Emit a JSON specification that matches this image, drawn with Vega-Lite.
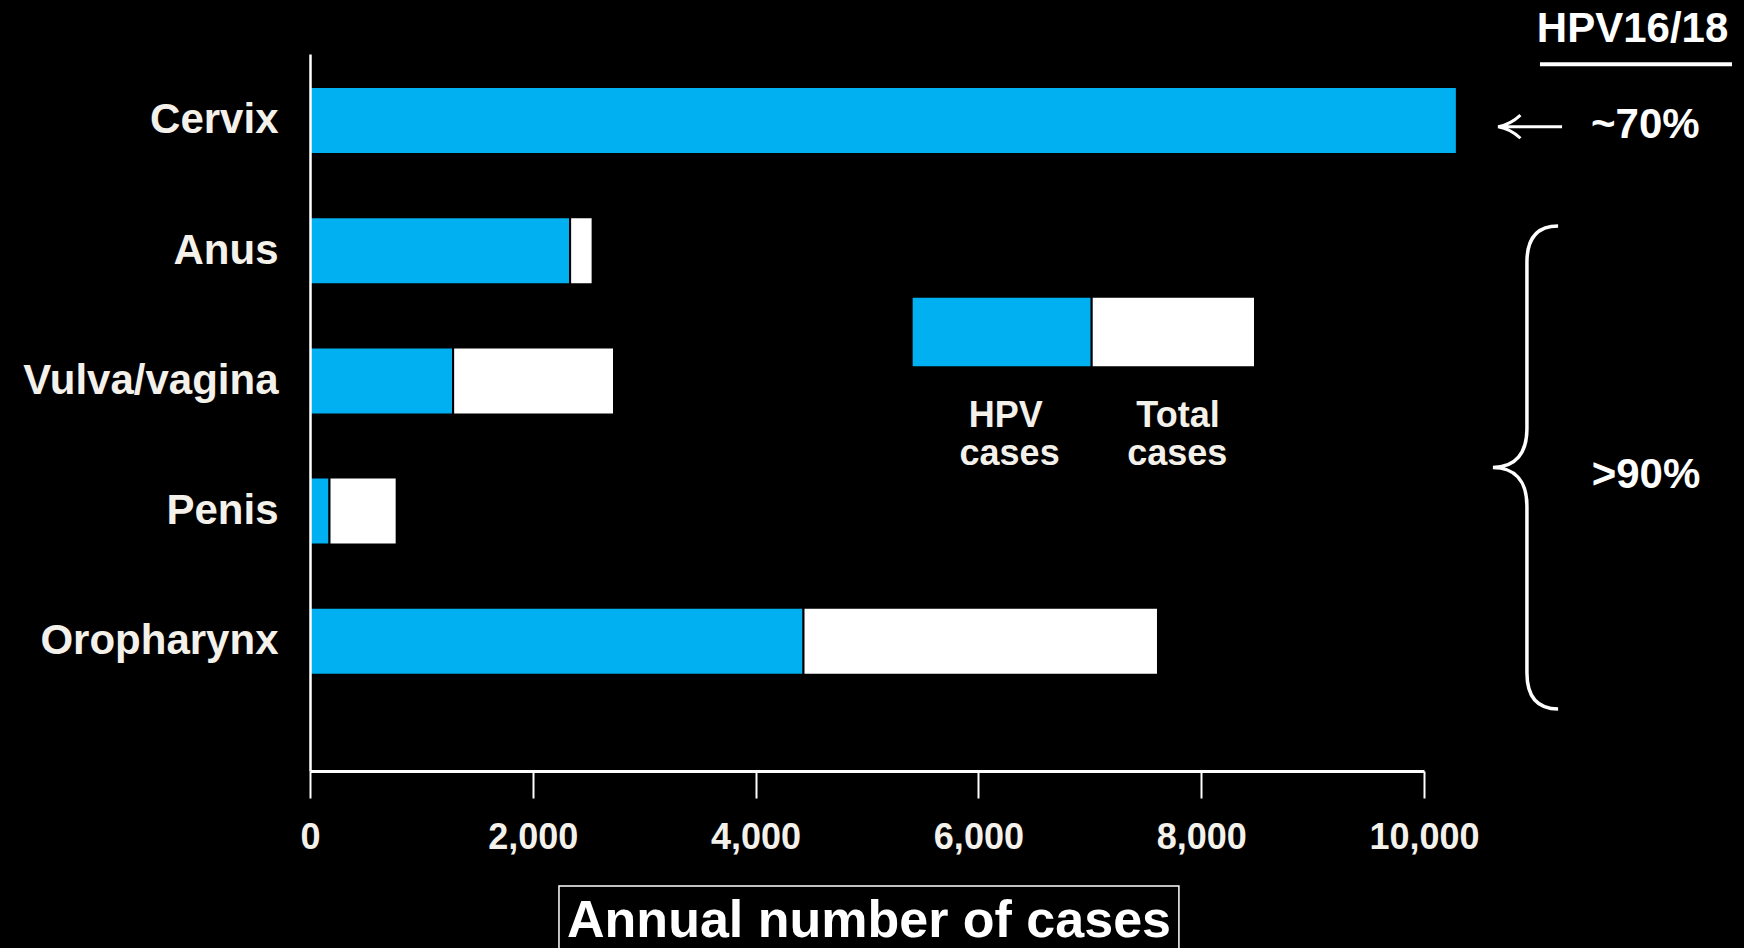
{
  "$schema": "https://vega.github.io/schema/vega-lite/v6.json",
  "width": 1114,
  "height": 717,
  "autosize": {"type": "none"},
  "padding": {"left": 310, "top": 54, "right": 320, "bottom": 177},
  "background": "#000000",
  "config": {"view": {"stroke": null}, "font": "Liberation Sans"},
  "datasets": {
    "bars": [
      {"site": "Cervix", "segment": "HPV cases", "start": 0, "end": 10295},
      {"site": "Anus", "segment": "HPV cases", "start": 0, "end": 2335},
      {"site": "Anus", "segment": "Total cases", "start": 2335, "end": 2537},
      {"site": "Vulva/vagina", "segment": "HPV cases", "start": 0, "end": 1285},
      {"site": "Vulva/vagina", "segment": "Total cases", "start": 1285, "end": 2729},
      {"site": "Penis", "segment": "HPV cases", "start": 0, "end": 175},
      {"site": "Penis", "segment": "Total cases", "start": 175, "end": 778},
      {"site": "Oropharynx", "segment": "HPV cases", "start": 0, "end": 4430},
      {"site": "Oropharynx", "segment": "Total cases", "start": 4430, "end": 7612}
    ],
    "legendRects": [
      {"segment": "HPV cases", "start": 5401, "end": 7017, "r": 2.3533, "r2": 2.8955},
      {"segment": "Total cases", "start": 7017, "end": 8483, "r": 2.3533, "r2": 2.8955}
    ],
    "legendText": [
      {"label": "HPV", "start": 6245, "r": 3.3541},
      {"label": "cases", "start": 6280, "r": 3.6459},
      {"label": "Total", "start": 7792, "r": 3.3541},
      {"label": "cases", "start": 7785, "r": 3.6459}
    ],
    "notes": [
      {"label": "HPV16/18", "start": 11872, "r": 0.3948},
      {"label": "~70%", "start": 11987, "r": 1.1367},
      {"label": ">90%", "start": 11993, "r": 3.8226}
    ],
    "underline": [{"start": 11041, "end": 12765, "r": 0.5684}],
    "arrow": [{"start": 10952, "r": 1.0476}],
    "brace": [{"start": 10911, "r": 3.6651}],
    "title": [{"label": "Annual number of cases", "start": 5018, "r": 7.2688}],
    "titleBox": [{"start": 2235, "end": 7800, "r": 6.8794, "r2": 7.7}]
  },
  "layer": [
    {
      "data": {"name": "bars"},
      "mark": {"type": "bar", "stroke": "#000000", "strokeWidth": 2},
      "encoding": {
        "y": {
          "field": "site",
          "type": "nominal",
          "sort": ["Cervix", "Anus", "Vulva/vagina", "Penis", "Oropharynx"],
          "scale": {"paddingInner": 0.4854, "paddingOuter": 0.496, "align": 0.2554},
          "axis": {
            "title": null,
            "ticks": false,
            "domainColor": "#ffffff",
            "domainWidth": 2.5,
            "labelFont": "Liberation Sans",
            "labelFontSize": 42,
            "labelFontWeight": "bold",
            "labelColor": "#f4f1eb",
            "labelPadding": 32,
            "labelLimit": 400,
            "zindex": 1
          }
        },
        "x": {
          "field": "start",
          "type": "quantitative",
          "scale": {"domain": [0, 10000], "nice": false},
          "axis": {
            "title": null,
            "values": [0, 2000, 4000, 6000, 8000, 10000],
            "format": ",d",
            "grid": false,
            "domainColor": "#ffffff",
            "domainWidth": 3,
            "tickColor": "#ffffff",
            "tickWidth": 2,
            "tickSize": 27,
            "labelFont": "Liberation Sans",
            "labelFontSize": 36,
            "labelFontWeight": "bold",
            "labelColor": "#f4f1eb",
            "labelPadding": 22,
            "labelFlush": false,
            "labelOverlap": false,
            "zindex": 1
          }
        },
        "x2": {"field": "end"},
        "color": {
          "field": "segment",
          "type": "nominal",
          "scale": {"domain": ["HPV cases", "Total cases"], "range": ["#00b0f0", "#ffffff"]},
          "legend": null
        }
      }
    },
    {
      "layer": [
        {
          "data": {"name": "legendRects"},
          "mark": {"type": "rect", "stroke": "#000000", "strokeWidth": 2},
          "encoding": {
            "x": {"field": "start", "type": "quantitative"},
            "x2": {"field": "end"},
            "y": {"field": "r", "type": "quantitative", "scale": {"domain": [0.4892, 5.9962], "reverse": true, "nice": false, "zero": false}, "axis": null},
            "y2": {"field": "r2"},
            "color": {
              "field": "segment",
              "type": "nominal",
              "legend": null
            }
          }
        },
        {
          "data": {"name": "legendText"},
          "mark": {"type": "text", "fontSize": 36, "fontWeight": "bold", "color": "#f4f1eb", "align": "center", "baseline": "alphabetic", "font": "Liberation Sans"},
          "encoding": {
            "x": {"field": "start", "type": "quantitative"},
            "y": {"field": "r", "type": "quantitative", "scale": {"domain": [0.4892, 5.9962], "reverse": true, "nice": false, "zero": false}, "axis": null},
            "text": {"field": "label"}
          }
        },
        {
          "data": {"name": "notes"},
          "mark": {"type": "text", "fontSize": 42, "fontWeight": "bold", "color": "#ffffff", "align": "center", "baseline": "alphabetic", "font": "Liberation Sans"},
          "encoding": {
            "x": {"field": "start", "type": "quantitative"},
            "y": {"field": "r", "type": "quantitative", "scale": {"domain": [0.4892, 5.9962], "reverse": true, "nice": false, "zero": false}, "axis": null},
            "text": {"field": "label"}
          }
        },
        {
          "data": {"name": "underline"},
          "mark": {"type": "rule", "color": "#ffffff", "strokeWidth": 4},
          "encoding": {
            "x": {"field": "start", "type": "quantitative"},
            "x2": {"field": "end"},
            "y": {"field": "r", "type": "quantitative", "scale": {"domain": [0.4892, 5.9962], "reverse": true, "nice": false, "zero": false}, "axis": null}
          }
        },
        {
          "data": {"name": "arrow"},
          "mark": {"type": "point", "filled": false, "opacity": 1, "color": "#ffffff", "strokeWidth": 3, "size": 4096, "shape": "M 1 0 L -1 0 M -0.3 -0.36 Q -0.62 -0.06 -1 0 Q -0.62 0.06 -0.3 0.36"},
          "encoding": {
            "x": {"field": "start", "type": "quantitative"},
            "y": {"field": "r", "type": "quantitative", "scale": {"domain": [0.4892, 5.9962], "reverse": true, "nice": false, "zero": false}, "axis": null}
          }
        },
        {
          "data": {"name": "brace"},
          "mark": {"type": "point", "filled": false, "opacity": 1, "color": "#ffffff", "strokeWidth": 3.5, "size": 233289, "shape": "M 0.135 -1 C 0.05 -1 0.006 -0.95 0.006 -0.85 L 0.006 -0.16 C 0.006 -0.06 -0.04 0 -0.135 0 C -0.04 0 0.006 0.06 0.006 0.16 L 0.006 0.85 C 0.006 0.95 0.05 1 0.135 1"},
          "encoding": {
            "x": {"field": "start", "type": "quantitative"},
            "y": {"field": "r", "type": "quantitative", "scale": {"domain": [0.4892, 5.9962], "reverse": true, "nice": false, "zero": false}, "axis": null}
          }
        },
        {
          "data": {"name": "titleBox"},
          "mark": {"type": "rect", "fillOpacity": 0, "stroke": "#ffffff", "strokeWidth": 1.5},
          "encoding": {
            "x": {"field": "start", "type": "quantitative"},
            "x2": {"field": "end"},
            "y": {"field": "r", "type": "quantitative", "scale": {"domain": [0.4892, 5.9962], "reverse": true, "nice": false, "zero": false}, "axis": null},
            "y2": {"field": "r2"}
          }
        },
        {
          "data": {"name": "title"},
          "mark": {"type": "text", "fontSize": 52, "fontWeight": "bold", "color": "#ffffff", "align": "center", "baseline": "alphabetic", "font": "Liberation Sans"},
          "encoding": {
            "x": {"field": "start", "type": "quantitative"},
            "y": {"field": "r", "type": "quantitative", "scale": {"domain": [0.4892, 5.9962], "reverse": true, "nice": false, "zero": false}, "axis": null},
            "text": {"field": "label"}
          }
        }
      ]
    }
  ],
  "resolve": {"scale": {"y": "independent"}}
}
